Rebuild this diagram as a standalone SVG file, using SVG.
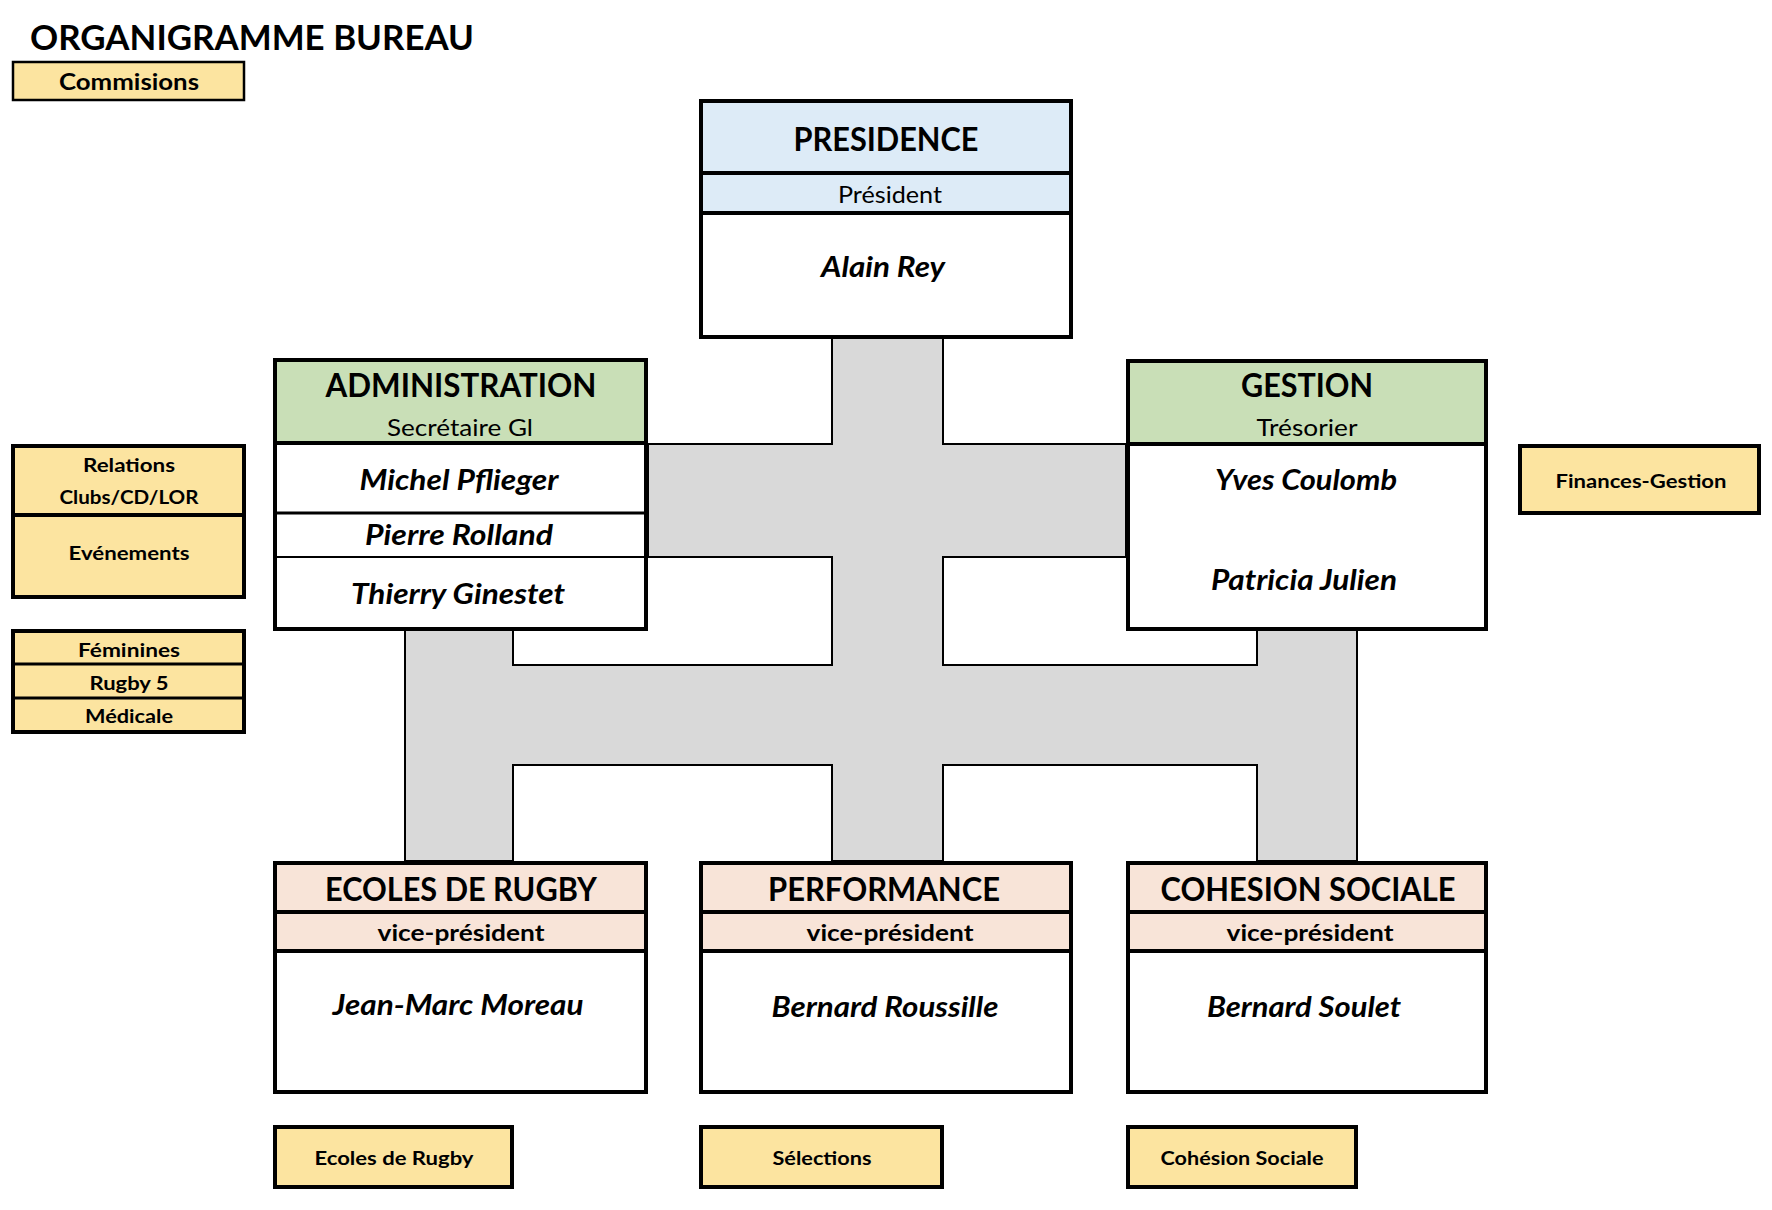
<svg xmlns="http://www.w3.org/2000/svg" width="1772" height="1210" viewBox="0 0 1772 1210">
<style>
text{font-family:Lato,"Open Sans","Liberation Sans",sans-serif;fill:#000;text-anchor:middle}
.box{fill:#fff;stroke:#000;stroke-width:4}
.blue{fill:#DDEBF7}
.green{fill:#C9DFB7}
.peach{fill:#F8E4D8}
.yel{fill:#FCE4A0;stroke:#000;stroke-width:4}
.div{stroke:#000;stroke-width:4}
.hd{font-size:32px;font-weight:700}
.sub{font-size:23px;font-weight:400}
.vp{font-size:22px;font-weight:700}
.nm{font-size:29px;font-weight:700;font-style:italic}
.sm{font-size:19px;font-weight:700}
.conn{fill:#D9D9D9;stroke:#000;stroke-width:2}
</style>
<text x="30" y="50" style="font-size:34px;font-weight:700;text-anchor:start" textLength="444" lengthAdjust="spacingAndGlyphs">ORGANIGRAMME BUREAU</text>
<g id="connectors">
<polygon class="conn" points="832,338 943,338 943,444 1126,444 1126,557 943,557 943,665 1257,665 1257,629 1357,629 1357,861 1257,861 1257,765 943,765 943,861 832,861 832,765 513,765 513,861 405,861 405,629 513,629 513,665 832,665 832,557 648,557 648,444 832,444"/>
</g>
<g id="commisions">
<rect x="13" y="62" width="231" height="38" class="yel" style="stroke-width:2.5"/>
<text x="129" y="90" style="font-size:22px;font-weight:700" textLength="140" lengthAdjust="spacingAndGlyphs">Commisions</text>
</g>
<g id="presidence">
<rect x="701" y="101" width="370" height="112" class="blue"/>
<rect x="701" y="101" width="370" height="236" class="box" style="fill:none"/>
<line x1="701" y1="173" x2="1071" y2="173" class="div"/>
<line x1="701" y1="213" x2="1071" y2="213" class="div"/>
<text x="886" y="151" class="hd" textLength="185" lengthAdjust="spacingAndGlyphs">PRESIDENCE</text>
<text x="890" y="203" class="sub" textLength="104" lengthAdjust="spacingAndGlyphs">Président</text>
<text x="883" y="277" class="nm" textLength="124" lengthAdjust="spacingAndGlyphs">Alain Rey</text>
</g>
<g id="administration">
<rect x="275" y="360" width="371" height="269" class="box"/>
<rect x="277" y="362" width="367" height="81" class="green"/>
<line x1="275" y1="443" x2="646" y2="443" class="div"/>
<line x1="275" y1="513" x2="646" y2="513" class="div" style="stroke-width:3"/>
<line x1="275" y1="557" x2="646" y2="557" class="div" style="stroke-width:2"/>
<text x="461" y="397" class="hd" textLength="271" lengthAdjust="spacingAndGlyphs">ADMINISTRATION</text>
<text x="460" y="436" class="sub" textLength="146" lengthAdjust="spacingAndGlyphs">Secrétaire Gl</text>
<text x="459" y="490" class="nm" textLength="199" lengthAdjust="spacingAndGlyphs">Michel Pflieger</text>
<text x="459" y="545" class="nm" textLength="188" lengthAdjust="spacingAndGlyphs">Pierre Rolland</text>
<text x="458" y="604" class="nm" textLength="214" lengthAdjust="spacingAndGlyphs">Thierry Ginestet</text>
</g>
<g id="gestion">
<rect x="1128" y="361" width="358" height="268" class="box"/>
<rect x="1130" y="363" width="354" height="81" class="green"/>
<line x1="1128" y1="444" x2="1486" y2="444" class="div"/>
<text x="1307" y="397" class="hd" textLength="132" lengthAdjust="spacingAndGlyphs">GESTION</text>
<text x="1307" y="436" class="sub" textLength="101" lengthAdjust="spacingAndGlyphs">Trésorier</text>
<text x="1306" y="490" class="nm" textLength="182" lengthAdjust="spacingAndGlyphs">Yves Coulomb</text>
<text x="1304" y="590" class="nm" textLength="186" lengthAdjust="spacingAndGlyphs">Patricia Julien</text>
</g>
<g id="finances">
<rect x="1520" y="446" width="239" height="67" class="yel"/>
<text x="1641" y="488" class="sm" textLength="171" lengthAdjust="spacingAndGlyphs">Finances-Gestion</text>
</g>
<g id="relations">
<rect x="13" y="446" width="231" height="151" class="yel"/>
<line x1="13" y1="515" x2="244" y2="515" class="div"/>
<text x="129" y="472" class="sm" textLength="92" lengthAdjust="spacingAndGlyphs">Relations</text>
<text x="129" y="504" class="sm" textLength="139" lengthAdjust="spacingAndGlyphs">Clubs/CD/LOR</text>
<text x="129" y="560" class="sm" textLength="121" lengthAdjust="spacingAndGlyphs">Evénements</text>
</g>
<g id="feminines">
<rect x="13" y="631" width="231" height="101" class="yel"/>
<line x1="13" y1="664" x2="244" y2="664" class="div" style="stroke-width:3"/>
<line x1="13" y1="698" x2="244" y2="698" class="div" style="stroke-width:3"/>
<text x="129" y="657" class="sm" textLength="102" lengthAdjust="spacingAndGlyphs">Féminines</text>
<text x="129" y="690" class="sm" textLength="79" lengthAdjust="spacingAndGlyphs">Rugby 5</text>
<text x="129" y="723" class="sm" textLength="88" lengthAdjust="spacingAndGlyphs">Médicale</text>
</g>
<g id="ecoles">
<rect x="275" y="863" width="371" height="229" class="box"/>
<rect x="277" y="865" width="367" height="86" class="peach"/>
<line x1="275" y1="912" x2="646" y2="912" class="div"/>
<line x1="275" y1="951" x2="646" y2="951" class="div"/>
<text x="461" y="901" class="hd" textLength="272" lengthAdjust="spacingAndGlyphs">ECOLES DE RUGBY</text>
<text x="461" y="941" class="vp" textLength="167" lengthAdjust="spacingAndGlyphs">vice-président</text>
<text x="458" y="1015" class="nm" textLength="251" lengthAdjust="spacingAndGlyphs">Jean-Marc Moreau</text>
</g>
<g id="performance">
<rect x="701" y="863" width="370" height="229" class="box"/>
<rect x="703" y="865" width="366" height="86" class="peach"/>
<line x1="701" y1="912" x2="1071" y2="912" class="div"/>
<line x1="701" y1="951" x2="1071" y2="951" class="div"/>
<text x="884" y="901" class="hd" textLength="232" lengthAdjust="spacingAndGlyphs">PERFORMANCE</text>
<text x="890" y="941" class="vp" textLength="167" lengthAdjust="spacingAndGlyphs">vice-président</text>
<text x="885" y="1017" class="nm" textLength="227" lengthAdjust="spacingAndGlyphs">Bernard Roussille</text>
</g>
<g id="cohesion">
<rect x="1128" y="863" width="358" height="229" class="box"/>
<rect x="1130" y="865" width="354" height="86" class="peach"/>
<line x1="1128" y1="912" x2="1486" y2="912" class="div"/>
<line x1="1128" y1="951" x2="1486" y2="951" class="div"/>
<text x="1308" y="901" class="hd" textLength="295" lengthAdjust="spacingAndGlyphs">COHESION SOCIALE</text>
<text x="1310" y="941" class="vp" textLength="167" lengthAdjust="spacingAndGlyphs">vice-président</text>
<text x="1304" y="1017" class="nm" textLength="194" lengthAdjust="spacingAndGlyphs">Bernard Soulet</text>
</g>
<g id="ecoles-commission">
<rect x="275" y="1127" width="237" height="60" class="yel"/>
<text x="394" y="1165" class="sm" textLength="159" lengthAdjust="spacingAndGlyphs">Ecoles de Rugby</text>
</g>
<g id="selections">
<rect x="701" y="1127" width="241" height="60" class="yel"/>
<text x="822" y="1165" class="sm" textLength="99" lengthAdjust="spacingAndGlyphs">Sélections</text>
</g>
<g id="cohesion-commission">
<rect x="1128" y="1127" width="228" height="60" class="yel"/>
<text x="1242" y="1165" class="sm" textLength="163" lengthAdjust="spacingAndGlyphs">Cohésion Sociale</text>
</g>
</svg>
